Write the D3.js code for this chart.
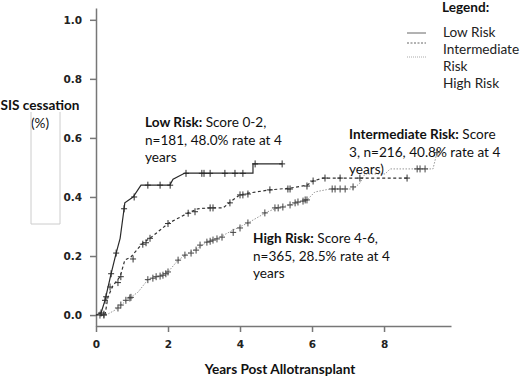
<!DOCTYPE html>
<html>
<head>
<meta charset="utf-8">
<script src="https://cdn.jsdelivr.net/npm/d3@7"></script>
<style>
  body { margin: 0; background: #fff; }
  svg { display: block; }
  .tick text { font-family: "DejaVu Sans", sans-serif; font-weight: bold; font-size: 10.5px; fill: #222; }
  .lbl { font-family: Lato, sans-serif; font-size: 13.6px; fill: #111; }
</style>
</head>
<body>
<svg id="chart" width="520" height="377"></svg>
<script>
// cumulative incidence: time (years) and value
var lowT  = [0, 0.14, 0.25, 0.42, 0.56, 0.67, 0.78, 0.8, 1.03, 1.25, 2.05, 2.14, 2.47, 4.36, 4.36, 5.17];
var lowV  = [0, 0.007, 0.05, 0.14, 0.21, 0.26, 0.36, 0.38, 0.40, 0.44, 0.44, 0.46, 0.481, 0.481, 0.512, 0.512];

var intT  = [0.1, 0.25, 0.33, 0.47, 0.67, 0.8, 0.97, 1.3, 1.5, 2.0, 2.56, 2.83, 3.17, 3.53, 3.8, 4.0, 4.28, 4.83, 5.39, 5.86, 6.03, 6.3, 8.64];
var intV  = [0, 0, 0.06, 0.10, 0.13, 0.186, 0.197, 0.244, 0.26, 0.31, 0.346, 0.36, 0.363, 0.363, 0.39, 0.407, 0.414, 0.424, 0.43, 0.44, 0.454, 0.464, 0.464];

var highT = [0.1, 0.28, 0.53, 0.69, 0.94, 1.17, 1.44, 1.72, 2.0, 2.28, 2.56, 2.83, 3.08, 3.44, 3.81, 4.22, 4.75, 5.03, 5.39, 5.86, 6.08, 6.5, 7.14, 7.33, 7.47, 8.03, 8.17, 9.36, 9.47];
var highV = [0, 0, 0.017, 0.034, 0.058, 0.078, 0.12, 0.13, 0.146, 0.186, 0.21, 0.227, 0.247, 0.264, 0.288, 0.312, 0.349, 0.363, 0.373, 0.39, 0.417, 0.427, 0.427, 0.447, 0.478, 0.478, 0.495, 0.495, 0.55];

// censoring marks
var lowCT  = [0.14, 0.25, 0.42, 0.56, 0.78, 1.06, 1.44, 1.78, 2.06, 2.5, 2.94, 3.0, 3.17, 3.58, 3.86, 4.08, 4.42, 5.17];
var lowCV  = [0.007, 0.05, 0.14, 0.21, 0.36, 0.40, 0.44, 0.44, 0.44, 0.48, 0.48, 0.48, 0.48, 0.48, 0.48, 0.48, 0.512, 0.512];
var intCT  = [0.22, 0.28, 0.39, 0.61, 0.69, 1.03, 1.3, 1.39, 1.5, 2.0, 2.56, 2.75, 3.17, 3.25, 3.72, 4.0, 4.08, 4.22, 4.83, 5.33, 5.39, 5.86, 6.03, 6.36, 6.78, 7.33, 8.64];
var intCV  = [0, 0.062, 0.095, 0.11, 0.13, 0.19, 0.24, 0.245, 0.26, 0.31, 0.345, 0.35, 0.363, 0.363, 0.38, 0.407, 0.407, 0.41, 0.424, 0.427, 0.427, 0.437, 0.454, 0.464, 0.464, 0.464, 0.464];
var highCT = [0.11, 0.22, 0.61, 0.69, 0.83, 0.94, 0.97, 1.44, 1.58, 1.67, 1.78, 1.86, 1.94, 2.0, 2.28, 2.47, 2.64, 2.78, 2.89, 3.08, 3.17, 3.25, 3.36, 3.5, 3.81, 4.0, 4.22, 4.69, 4.97, 5.06, 5.19, 5.39, 5.53, 5.61, 5.75, 5.81, 5.86, 6.56, 6.64, 6.78, 6.92, 7.14, 8.92, 9.0, 9.14, 9.47];
var highCV = [0, 0.003, 0.024, 0.034, 0.05, 0.058, 0.06, 0.12, 0.125, 0.13, 0.132, 0.135, 0.14, 0.146, 0.186, 0.203, 0.21, 0.22, 0.237, 0.247, 0.25, 0.254, 0.258, 0.264, 0.28, 0.295, 0.312, 0.346, 0.363, 0.363, 0.366, 0.373, 0.38, 0.383, 0.386, 0.39, 0.39, 0.427, 0.427, 0.427, 0.427, 0.434, 0.495, 0.495, 0.495, 0.55];

var yTicks = [0, 0.2, 0.4, 0.6, 0.8, 1.0];
var xTicks = [0, 2, 4, 6, 8];

var legendItems = ["Low Risk", "Intermediate", "Risk", "High Risk"];

var svg = d3.select("#chart");

var x = d3.scaleLinear().domain([0, 9.86]).range([96, 451]);
var y = d3.scaleLinear().domain([-0.037, 1.04]).range([326, 8]);

//axes
var yAxis = d3.axisLeft(y).tickValues(yTicks).tickFormat(d3.format(".1f"))
    .tickSize(6).tickSizeOuter(0).tickPadding(8);
var xAxis = d3.axisBottom(x).tickValues(xTicks).tickFormat(d3.format("d"))
    .tickSize(6).tickSizeOuter(0).tickPadding(9);

var gy = svg.append("g").attr("transform", "translate(96,0)").call(yAxis);
var gx = svg.append("g").attr("transform", "translate(0,326)").call(xAxis);
svg.selectAll(".domain, .tick line").attr("stroke", "#777").attr("stroke-width", 1.5);

//curves
var line = d3.line().x(function(d) { return x(d[0]); }).y(function(d) { return y(d[1]); });

function drawCurve(ts, vs, stroke, dash, width) {
    svg.append("path")
        .datum(d3.zip(ts, vs))
        .attr("d", line)
        .attr("fill", "none")
        .attr("stroke", stroke)
        .attr("stroke-width", width)
        .attr("stroke-dasharray", dash);
}

function drawMarks(ts, vs, stroke) {
    svg.append("g").selectAll("path")
        .data(d3.zip(ts, vs))
        .enter()
        .append("path")
        .attr("d", function(d) {
            var cx = x(d[0]), cy = y(d[1]);
            return "M" + (cx - 3) + "," + cy + "H" + (cx + 3) + "M" + cx + "," + (cy - 3.5) + "V" + (cy + 3.5);
        })
        .attr("stroke", stroke)
        .attr("stroke-width", 1)
        .attr("fill", "none");
}

drawCurve(highT, highV, "#999", "1.5,1.5", 1);
drawCurve(intT, intV, "#333", "3,2.5", 1.2);
drawCurve(lowT, lowV, "#2a2a2a", null, 1.2);

drawMarks(highCT, highCV, "#444");
drawMarks(intCT, intCV, "#333");
drawMarks(lowCT, lowCV, "#2a2a2a");

//axis titles
svg.append("text").attr("class", "lbl").attr("x", 280).attr("y", 374)
    .attr("text-anchor", "middle").style("font-weight", "bold").text("Years Post Allotransplant");

svg.append("text").attr("class", "lbl").attr("x", 40).attr("y", 110)
    .attr("text-anchor", "middle").style("font-weight", "bold").text("SIS cessation");
svg.append("text").attr("class", "lbl").attr("x", 40).attr("y", 128)
    .attr("text-anchor", "middle").text("(%)");

// leftover empty box under the label
svg.append("path").attr("d", "M31,112V224H60V112")
    .attr("fill", "none").attr("stroke", "#ccc").attr("stroke-width", 1);

//annotations
function note(x0, y0, bold, rest) {
    var t = svg.append("text").attr("class", "lbl").attr("x", x0).attr("y", y0);
    t.append("tspan").style("font-weight", "bold").text(bold);
    t.append("tspan").text(rest[0]);
    for (var i = 1; i < rest.length; i++) {
        svg.append("text").attr("class", "lbl").attr("x", x0).attr("y", y0 + 17.5 * i).text(rest[i]);
    }
}
note(145, 127, "Low Risk:", [" Score 0-2,", "n=181, 48.0% rate at 4", "years"]);
note(349, 139, "Intermediate Risk:", [" Score", "3, n=216, 40.8% rate at 4", "years)"]);
note(253, 243, "High Risk:", [" Score 4-6,", "n=365, 28.5% rate at 4", "years"]);

//legend
svg.append("text").attr("class", "lbl").attr("x", 442).attr("y", 12)
    .style("font-weight", "bold").text("Legend:");

var legY = [37, 54, 71, 88];
svg.append("g").selectAll("text")
    .data(legendItems)
    .enter()
    .append("text")
    .attr("class", "lbl")
    .attr("x", 443)
    .attr("y", function(d, i) { return legY[i]; })
    .style("fill", "#222")
    .text(function(d) { return d; });

var legLines = [[33, "#666", null], [43, "#666", "2,1.5"], [57, "#aaa", "1,1"]];
svg.append("g").selectAll("line")
    .data(legLines)
    .enter()
    .append("line")
    .attr("x1", 407).attr("x2", 426)
    .attr("y1", function(d) { return d[0]; })
    .attr("y2", function(d) { return d[0]; })
    .attr("stroke", function(d) { return d[1]; })
    .attr("stroke-dasharray", function(d) { return d[2]; });
</script>
</body>
</html>
